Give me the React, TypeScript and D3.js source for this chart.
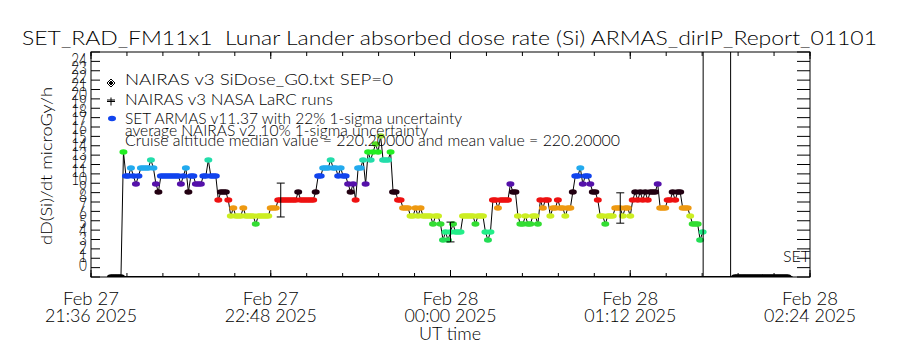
import React from 'react';
import * as d3 from 'd3';

// time axis: Feb 27 21:36 -> Feb 28 02:24 UT
const startTime = new Date(Date.UTC(2025, 1, 27, 21, 36));
const endTime = new Date(Date.UTC(2025, 1, 28, 2, 24));
const majorStepMin = 72;
const minorStepMin = 14.4;

// dose levels seen in the picture (microGy/h) and the colour each one is drawn with
const doseLevels = [0, 3.95, 4.8, 5.65, 6.51, 7.36, 8.21, 9.07, 9.92, 10.77, 11.63, 12.48, 13.33, 14.19, 15.04];
const levelColors = ['#000000', '#22dd55', '#22ee88', '#33dd33', '#ccee22', '#ee9911', '#ee1111', '#220011',
  '#5511aa', '#1144ee', '#22aaee', '#22ddaa', '#22ee22', '#55dd22', '#a0e040'];

// SET ARMAS, one value per minute, first one at 21:44
const setFirstMinute = 8;
const setDose = [
  0, 0, 0, 0, 0,
  13.33, 10.77, 10.77, 11.63, 10.77, 9.92, 10.77, 11.63, 11.63, 11.63, 11.63, 12.48,
  11.63, 9.92, 9.07, 10.77, 10.77, 10.77, 10.77, 10.77, 10.77, 10.77, 10.77, 9.92,
  10.77, 11.63, 9.07, 10.77, 10.77, 9.92, 9.92, 9.92, 10.77, 10.77, 12.48, 10.77,
  10.77, 10.77, 8.21, 9.07, 9.07, 9.07, 8.21, 6.51, 7.36, 6.51, 6.51, 6.51,
  7.36, 6.51, 6.51, 6.51, 6.51, 5.65, 6.51, 6.51, 6.51, 6.51, 6.51, 7.36,
  7.36, 7.36, 8.21, 8.21, 8.21, 8.21, 8.21, 8.21, 8.21, 8.21, 9.07, 8.21,
  8.21, 8.21, 8.21, 8.21, 8.21, 9.07, 10.77, 10.77, 11.63, 11.63, 11.63, 12.48,
  11.63, 11.63, 10.77, 11.63, 10.77, 10.77, 9.92, 9.07, 9.92, 8.21, 11.63, 11.63,
  12.48, 9.92, 13.33, 12.48, 13.33, 14.19, 13.33, 15.04, 12.48, 12.48, 12.48, 13.33,
  9.07, 9.07, 8.21, 8.21, 7.36, 7.36, 7.36, 6.51, 6.51, 7.36, 6.51, 7.36,
  6.51, 6.51, 6.51, 6.51, 5.65, 6.51, 6.51, 5.65, 3.95, 4.8, 3.95, 4.8,
  5.65, 4.8, 4.8, 4.8, 6.51, 6.51, 6.51, 6.51, 6.51, 5.65, 6.51, 6.51,
  6.51, 4.8, 3.95, 4.8, 8.21, 8.21, 7.36, 8.21, 8.21, 8.21, 8.21, 9.92,
  9.07, 9.07, 6.51, 5.65, 5.65, 6.51, 5.65, 5.65, 6.51, 6.51, 5.65, 8.21,
  7.36, 8.21, 8.21, 6.51, 7.36, 7.36, 8.21, 7.36, 7.36, 6.51, 7.36, 7.36,
  9.07, 10.77, 10.77, 11.63, 9.92, 10.77, 10.77, 9.92, 9.07, 9.07, 8.21, 6.51,
  6.51, 5.65, 6.51, 6.51, 6.51, 7.36, 7.36, 7.36, 6.51, 7.36, 7.36, 6.51,
  8.21, 9.07, 8.21, 9.07, 8.21, 9.07, 8.21, 9.07, 9.07, 9.07, 9.92, 7.36,
  7.36, 7.36, 8.21, 8.21, 9.07, 8.21, 9.07, 9.07, 7.36, 7.36, 7.36, 6.51,
  5.65, 5.65, 5.65, 3.95, 4.8,
];
// after landing, zero readings
const setTailFirstMinute = 258;
const setTailDose = [0, 0, 0, 0, 0, 0, 0, 0, 0, 0, 0, 0, 0, 0, 0, 0, 0, 0, 0, 0, 0, 0];

// NAIRAS v3 SEP=0 model, flat at zero over the flight
const nairasMinutes = [7, 281];
const nairasDose = [0, 0];

// 22% error bars are drawn on these minutes
const errMinutes = [76, 144, 212];
const errFraction = 0.22;

// vertical event lines (minutes after 21:36)
const eventMinutes = [245.2, 256.2];

const yTickValues = d3.range(0, 25);

const legendRows = [
  { text: 'NAIRAS v3 SiDose_G0.txt SEP=0', y: 85, len: 268 },
  { text: 'NAIRAS v3 NASA LaRC runs', y: 105, len: 208 },
  { text: 'SET ARMAS v11.37 with 22% 1-sigma uncertainty', y: 123.5, len: 337 },
  { text: 'average NAIRAS v2 10% 1-sigma uncertainty', y: 136, len: 303 },
  { text: 'Cruise altitude median value = 220.20000 and mean value = 220.20000', y: 146, len: 495 },
];

const W = 900, H = 350;
const left = 91, right = 810, top = 52, bottom = 277;
const font = 'Lato, DejaVu Sans, sans-serif';

export default function App() {
  const x = d3.scaleUtc().domain([startTime, endTime]).range([left, right]);
  const y = d3.scaleLinear().domain([0, 24]).range([bottom, top]);
  const yLab = d3.scaleLinear().domain([0, 24]).range([264, 59]);
  const color = d3.scaleOrdinal<number, string>().domain(doseLevels).range(levelColors);
  const at = (m: number) => d3.utcMillisecond.offset(startTime, Math.round(m * 60000));

  const main = setDose.map((v, i) => ({ t: at(setFirstMinute + i), v }));
  const tail = setTailDose.map((v, i) => ({ t: at(setTailFirstMinute + i), v }));
  const nairas = nairasDose.map((v, i) => ({ t: at(nairasMinutes[i]), v }));
  const line = d3.line<{ t: Date; v: number }>().x(d => x(d.t)).y(d => y(d.v));

  const majors = d3.range(0, 288.01, majorStepMin).map(at);
  const minors = d3.range(0, 288.01, minorStepMin).map(at);
  const fmt1 = d3.utcFormat('%b %d');
  const fmt2 = d3.utcFormat('%H:%M %Y');

  const errs = errMinutes.map(m => {
    const v = setDose[m - setFirstMinute];
    return { t: at(m), lo: v * (1 - errFraction), hi: v * (1 + errFraction) };
  });

  return (
    <svg width={W} height={H} style={{ position: 'absolute', left: 0, top: 0, background: '#fff' }}
      fontFamily={font} fontWeight={300}>
      <defs>
        <clipPath id="plotClip">
          <rect x={left} y={top} width={right - left} height={bottom - top} />
        </clipPath>
      </defs>
      <rect width={W} height={H} fill="#fff" />

      <text x={449.5} y={45} fontSize={20} textAnchor="middle" textLength={855} lengthAdjust="spacingAndGlyphs"
        style={{ whiteSpace: 'pre' }}>
        {'SET_RAD_FM11x1  Lunar Lander absorbed dose rate (Si) ARMAS_dirIP_Report_01101'}
      </text>

      {/* data */}
      <g clipPath="url(#plotClip)">
        <path d={line(nairas) ?? ''} fill="none" stroke="#000" strokeWidth={2} />
        <path d={line(main) ?? ''} fill="none" stroke="#000" strokeWidth={1} />
        <path d={line(tail) ?? ''} fill="none" stroke="#000" strokeWidth={1} />
        {[...main, ...tail].map((d, i) => (
          <ellipse key={i} cx={x(d.t)} cy={y(d.v)} rx={4} ry={2.8} fill={color(d.v)} />
        ))}
        {errs.map((e, i) => (
          <g key={i} stroke="#000" strokeWidth={1}>
            <line x1={x(e.t)} x2={x(e.t)} y1={y(e.lo)} y2={y(e.hi)} />
            <line x1={x(e.t) - 4} x2={x(e.t) + 4} y1={y(e.lo)} y2={y(e.lo)} />
            <line x1={x(e.t) - 4} x2={x(e.t) + 4} y1={y(e.hi)} y2={y(e.hi)} />
          </g>
        ))}
        {eventMinutes.map((m, i) => (
          <line key={i} x1={x(at(m))} x2={x(at(m))} y1={top} y2={bottom} stroke="#000" />
        ))}
      </g>

      {/* legend */}
      <g stroke="#000" fill="none" strokeWidth={1}>
        <path d="M111,79 L115,83 L111,87 L107,83 Z" />
        <path d="M111,81 L113,83 L111,85 L109,83 Z" fill="#000" />
        <path d="M107,101.5 H115 M111,97.5 V105.5 M107,100 H115" />
      </g>
      <ellipse cx={112} cy={118.5} rx={4} ry={2.8} fill={color(10.77)} />
      {legendRows.map((r, i) => (
        <text key={i} x={125} y={r.y} fontSize={15} textLength={r.len} lengthAdjust="spacingAndGlyphs">{r.text}</text>
      ))}

      <text x={810} y={262} fontSize={16} textAnchor="end">SET</text>

      {/* frame and axes */}
      <rect x={left} y={top} width={right - left} height={bottom - top} fill="none" stroke="#000" />
      <g stroke="#000">
        {yTickValues.map(v => (
          <g key={v}>
            <line x1={left} x2={left + 9} y1={y(v)} y2={y(v)} />
            <line x1={right - 13} x2={right} y1={y(v)} y2={y(v)} />
          </g>
        ))}
        {minors.map((t, i) => (
          <g key={i}>
            <line x1={x(t)} x2={x(t)} y1={top} y2={top + 4} />
            <line x1={x(t)} x2={x(t)} y1={bottom} y2={bottom - 4} />
          </g>
        ))}
        {majors.map((t, i) => (
          <g key={i}>
            <line x1={x(t)} x2={x(t)} y1={top} y2={top + 7} />
            <line x1={x(t)} x2={x(t)} y1={bottom} y2={bottom - 7} />
          </g>
        ))}
      </g>
      {yTickValues.map(v => (
        <text key={v} transform={`translate(87,${yLab(v)}) scale(0.8,1)`} fontSize={17} textAnchor="end"
          dominantBaseline="central">{v}</text>
      ))}
      {majors.map((t, i) => (
        <g key={i}>
          <text x={x(t)} y={305} fontSize={17} textAnchor="middle" textLength={56}
            lengthAdjust="spacingAndGlyphs">{fmt1(t)}</text>
          <text x={x(t)} y={322} fontSize={17} textAnchor="middle" textLength={92}
            lengthAdjust="spacingAndGlyphs">{fmt2(t)}</text>
        </g>
      ))}
      <text x={450} y={340} fontSize={17} textAnchor="middle" textLength={62}
        lengthAdjust="spacingAndGlyphs">UT time</text>
      <text transform="translate(52,166) rotate(-90)" fontSize={16} textAnchor="middle" textLength={158}
        lengthAdjust="spacingAndGlyphs">dD(Si)/dt microGy/h</text>
    </svg>
  );
}
